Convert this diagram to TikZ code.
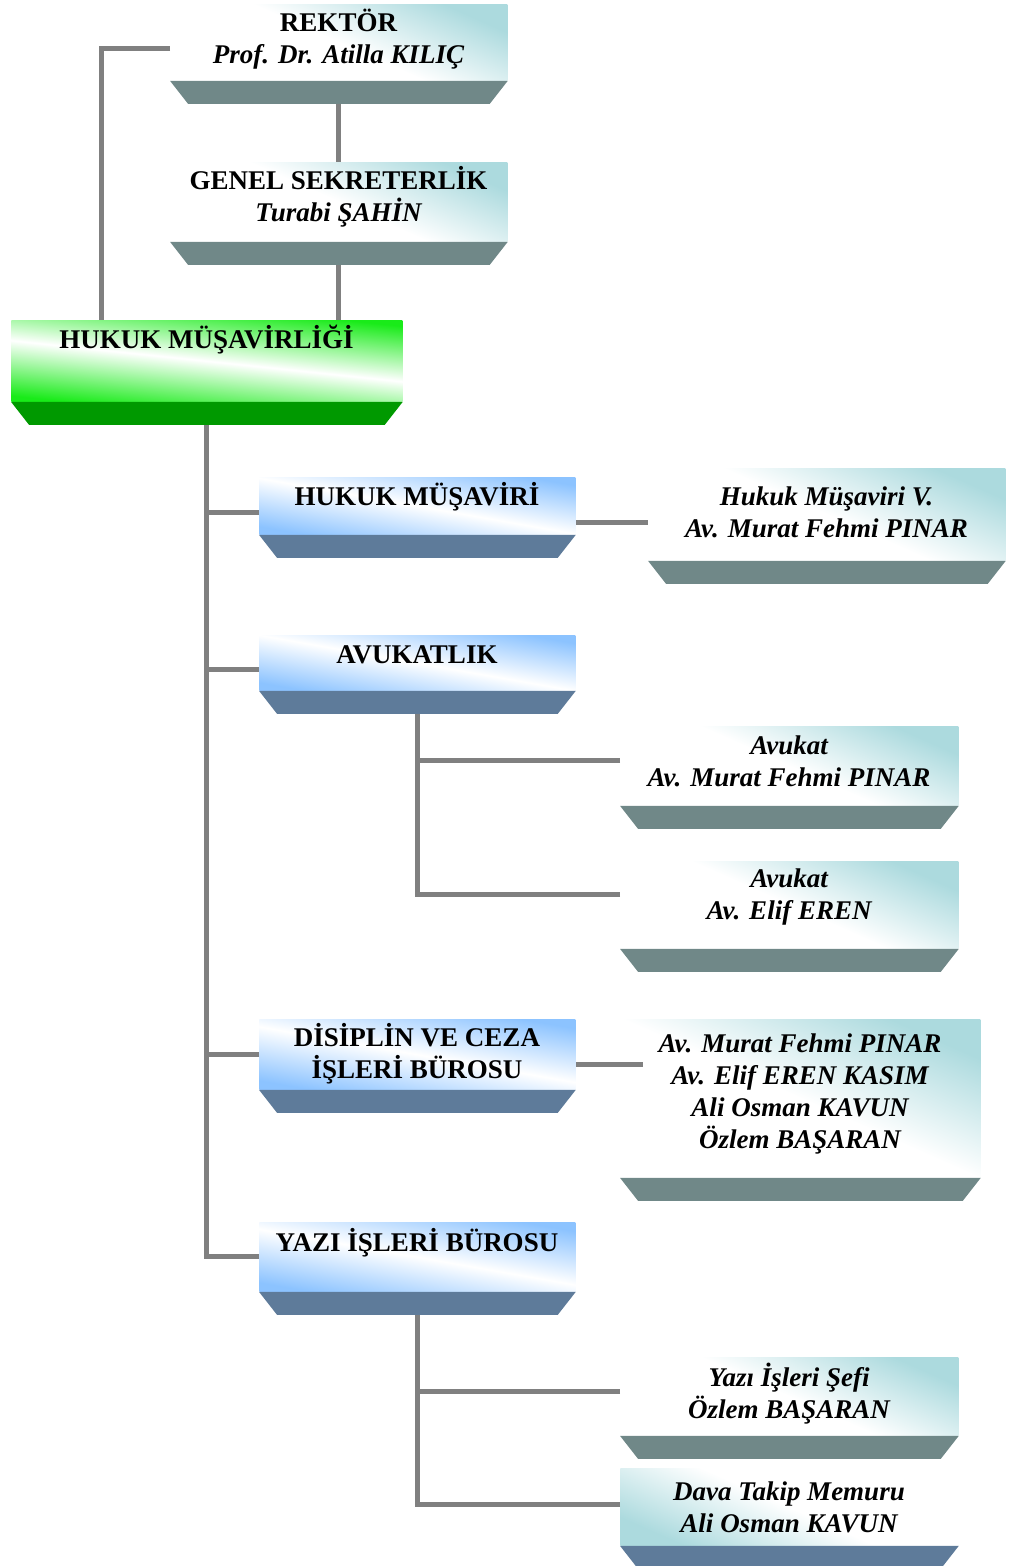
\documentclass[tikz,border=0pt]{standalone}
\usepackage{fontspec}
\setmainfont{Liberation Serif}
\usetikzlibrary{calc}
\definecolor{tealL}{RGB}{172,218,222}
\definecolor{tealD}{RGB}{112,136,136}
\definecolor{blueL}{RGB}{140,195,255}
\definecolor{blueD}{RGB}{94,123,154}
\definecolor{greenL}{RGB}{25,235,25}
\definecolor{greenD}{RGB}{0,153,0}
\definecolor{connC}{RGB}{128,128,128}
\tikzset{
  conn/.style={draw=connC, line width=2.5pt},
  tealbox/.style={top color=tealL, bottom color=white, middle color=white, shading angle=-24},
  tealrev/.style={top color=white, bottom color=tealL, middle color=white, shading angle=-24},
  bluebox/.style={top color=blueL, bottom color=blueL, middle color=white, shading angle=-10},
  greenbox/.style={top color=greenL, bottom color=greenL, middle color=white, shading angle=-6},
  boxtxt/.style={font=\fontsize{13.5}{16}\selectfont\bfseries, align=center, inner sep=0pt}
}
% #1 name, #2 x1, #3 y1, #4 x2, #5 y2, #6 fill style, #7 bevel colour, #8 text y, #9 text
\newcommand\orgbox[9]{%
  \node[#6, rectangle, inner sep=0pt, anchor=north west,
        minimum width={(#4-#2)*0.5pt}, minimum height={(#5-#3)*0.5pt}] (#1) at (#2,#3) {};
  \fill[#7] (#1.south west) -- (#1.south east) -- ++(-18,23)
            -- ($(#1.south west)+(18,23)$) -- cycle;
  \coordinate (#1-b) at ($(#1.south)+(0,23)$);
  \node[boxtxt] (#1-t) at ({(#2+#4)/2},#8) {#9};
}
\begin{document}
\begin{tikzpicture}[x=0.5pt, y=-0.5pt]
\useasboundingbox (0,0) rectangle (1008,1566);
\fill[white] (0,0) rectangle (1008,1566);

\orgbox{rek}{170}{4}{507}{80}{tealbox}{tealD}{39}{REKTÖR\\{\itshape Prof. Dr. Atilla KILIÇ}}
\orgbox{gs}{170}{162}{507}{241}{tealbox}{tealD}{197}{GENEL SEKRETERLİK\\{\itshape Turabi ŞAHİN}}
\orgbox{hm}{11}{320}{402}{401}{greenbox}{greenD}{340}{HUKUK MÜŞAVİRLİĞİ}
\orgbox{hmr}{259}{477}{575}{534}{bluebox}{blueD}{497}{HUKUK MÜŞAVİRİ}
\orgbox{hmv}{648}{468}{1005}{560}{tealbox}{tealD}{512}{{\itshape Hukuk Müşaviri V.}\\{\itshape Av. Murat Fehmi PINAR}}
\orgbox{avk}{259}{635}{575}{690}{bluebox}{blueD}{655}{AVUKATLIK}
\orgbox{avA}{620}{726}{958}{805}{tealbox}{tealD}{761}{{\itshape Avukat}\\{\itshape Av. Murat Fehmi PINAR}}
\orgbox{avB}{620}{861}{958}{948}{tealbox}{tealD}{897}{{\itshape Avukat}\\{\itshape Av. Elif EREN}}
\orgbox{dis}{259}{1019}{575}{1089}{bluebox}{blueD}{1054}{DİSİPLİN VE CEZA\\İŞLERİ BÜROSU}
\orgbox{lst}{620}{1019}{980}{1177}{tealbox}{tealD}{1094}{{\itshape Av. Murat Fehmi PINAR}\\{\itshape Av. Elif EREN KASIM}\\{\itshape Ali Osman KAVUN}\\{\itshape Özlem BAŞARAN}}
\orgbox{yaz}{259}{1222}{575}{1291}{bluebox}{blueD}{1243}{YAZI İŞLERİ BÜROSU}
\orgbox{ysf}{620}{1357}{958}{1435}{tealbox}{tealD}{1394}{{\itshape Yazı İşleri Şefi}\\{\itshape Özlem BAŞARAN}}
\orgbox{dtm}{620}{1468}{958}{1545}{tealrev}{blueD}{1507}{{\itshape Dava Takip Memuru}\\{\itshape Ali Osman KAVUN}}

% connectors
\draw[conn] ([yshift=-3pt]rek.west) -| ($(hm.north west)!0.23!(hm.north east)$);
\draw[conn] (rek-b) -- (gs.north);
\draw[conn] (gs-b) -- (gs-b |- hm.north);
\draw[conn] ([yshift=-3.5pt]hmr.west) -| (hm-b);
\draw[conn] ([yshift=-3.5pt]avk.west) -| (hm-b);
\draw[conn] (dis.west) -| (hm-b);
\draw[conn] (yaz.west) -| (hm-b);
\draw[conn] ([yshift=-8.25pt]hmr.east) -- ([yshift=-8.25pt]hmr.east -| hmv.west);
\draw[conn] ([yshift=-5pt]dis.east) -- ([yshift=-5pt,xshift=11.5pt]dis.east -| lst.west);
\draw[conn] ([yshift=2.75pt]avA.west) -| (avk-b);
\draw[conn] ([yshift=5.25pt]avB.west) -| (avk-b);
\draw[conn] ([yshift=2.5pt]ysf.west) -| (yaz-b);
\draw[conn] ([yshift=1.25pt]dtm.west) -| (yaz-b);
\end{tikzpicture}
\end{document}
